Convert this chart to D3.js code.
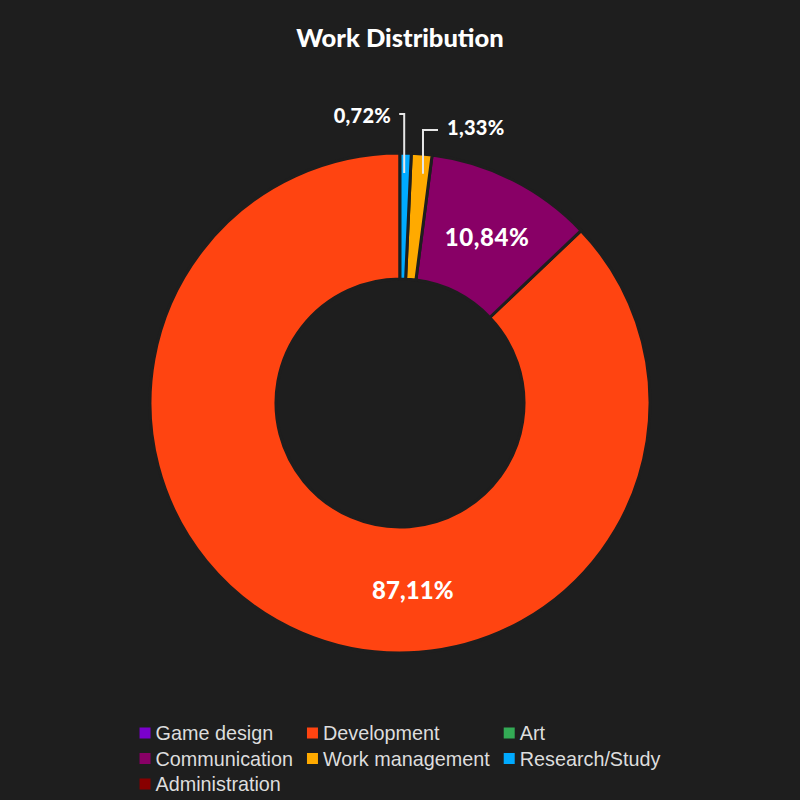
<!DOCTYPE html>
<html>
<head>
<meta charset="utf-8">
<script src="https://cdn.jsdelivr.net/npm/d3@7"></script>
<style>
  html, body { margin: 0; padding: 0; background: #1e1e1e; }
  svg { display: block; }
</style>
</head>
<body>
<svg id="chart" width="800" height="800"></svg>
<script>
// ---- data ----
const title = "Work Distribution";
const categories = ["Game design", "Development", "Art", "Communication", "Work management", "Research/Study", "Administration"];
const values = [0, 87.11, 0, 10.84, 1.33, 0.72, 0];
const colors = ["#7a00cc", "#ff4411", "#33aa55", "#880066", "#ffaa00", "#00aaff", "#880000"];
const labelTexts = ["0,00%", "87,11%", "0,00%", "10,84%", "1,33%", "0,72%", "0,00%"];

// ---- layout ----
const W = 800, H = 800;
const bg = "#1e1e1e";
const cx = 400, cy = 403;
const outerR = 250, innerR = 124;

const svg = d3.select("#chart");
svg.append("rect").attr("width", W).attr("height", H).attr("fill", bg);

svg.append("text")
  .attr("x", 400).attr("y", 47)
  .attr("text-anchor", "middle")
  .attr("font-family", "Lato, 'Open Sans', sans-serif")
  .attr("font-weight", 900)
  .attr("font-size", 25.5)
  .attr("fill", "#ffffff")
  .text(title);

const data = categories.map((c, i) => ({ cat: c, value: values[i], color: colors[i], label: labelTexts[i] }));

// Counter-clockwise from 12 o'clock in category order
const pie = d3.pie().sort(null).value(d => d.value).startAngle(2 * Math.PI).endAngle(0);
const arcs = pie(data);

const arc = d3.arc().innerRadius(innerR).outerRadius(outerR);
const g = svg.append("g").attr("transform", `translate(${cx},${cy})`);

g.selectAll("path.slice")
  .data(arcs.filter(a => a.data.value > 0))
  .join("path")
  .attr("class", "slice")
  .attr("d", arc)
  .attr("fill", d => d.data.color)
  .attr("stroke", bg)
  .attr("stroke-width", 3)
  .attr("stroke-linejoin", "miter");

// ---- labels ----
const labelFont = "Lato, 'Open Sans', sans-serif";
const midR = (innerR + outerR) / 2;
const total = d3.sum(values);
arcs.filter(a => a.data.value > 0).forEach(a => {
  const share = a.data.value / total;
  let ang = (a.startAngle + a.endAngle) / 2;
  if (share > 0.05) {
    if (share > 0.5) ang = Math.PI * 0.978; // dominant slice label sits near the bottom
    const x = Math.sin(ang) * midR * (share > 0.5 ? 1.0 : 1.03);
    const y = -Math.cos(ang) * midR;
    g.append("text")
      .attr("x", x).attr("y", y)
      .attr("text-anchor", "middle")
      .attr("dominant-baseline", "central")
      .attr("font-family", labelFont)
      .attr("font-weight", 900)
      .attr("font-size", 24)
      .attr("letter-spacing", share > 0.5 ? 0.1 : 0.6)
      .attr("fill", "#ffffff")
      .text(a.data.label);
  } else {
    // small slice: leader line going straight up, then a short elbow
    const r0 = outerR * 0.92;
    const x0 = Math.sin(ang) * r0 + (ang < 0.05 ? -1 : 3);
    const y0 = -Math.cos(ang) * r0;
    const leftSide = ang < 0.05;
    const yTop = leftSide ? -289 : -273;
    const dx = leftSide ? -5 : 15;
    g.append("path")
      .attr("d", `M${x0},${y0}V${yTop}h${dx}`)
      .attr("fill", "none")
      .attr("stroke", "#e6e6e6")
      .attr("stroke-width", 2);
    g.append("text")
      .attr("x", x0 + dx + (leftSide ? -8 : 9))
      .attr("y", yTop + (leftSide ? 1 : -3))
      .attr("text-anchor", leftSide ? "end" : "start")
      .attr("dominant-baseline", "central")
      .attr("font-family", labelFont)
      .attr("font-weight", 900)
      .attr("font-size", 20)
      .attr("letter-spacing", 0.3)
      .attr("fill", "#ffffff")
      .text(a.data.label);
  }
});

// ---- legend ----
const legFont = "'Liberation Sans', Arial, sans-serif";
const legSize = 19.8;
const nCols = 3, box = 11, boxGap = 5, colGap = 14, rowH = 25.5;
const legend = svg.append("g");
const items = legend.selectAll("g.item").data(data).join("g").attr("class", "item");
items.append("rect").attr("width", box).attr("height", box).attr("fill", d => d.color);
items.append("text")
  .attr("x", box + boxGap)
  .attr("y", box / 2)
  .attr("dominant-baseline", "central")
  .attr("font-family", legFont)
  .attr("font-size", legSize)
  .attr("fill", "#dddddd")
  .text(d => d.cat);
const widths = [];
items.each(function () { widths.push(box + boxGap + d3.select(this).select("text").node().getComputedTextLength()); });
const colW = d3.range(nCols).map(c => d3.max(widths.filter((w, i) => i % nCols === c)));
const totalW = d3.sum(colW) + colGap * (nCols - 1);
const x0 = 400 - totalW / 2;
const colX = colW.map((w, c) => x0 + d3.sum(colW.slice(0, c)) + colGap * c);
items.attr("transform", (d, i) => `translate(${colX[i % nCols]},${727.5 + Math.floor(i / nCols) * rowH})`);
</script>
</body>
</html>
